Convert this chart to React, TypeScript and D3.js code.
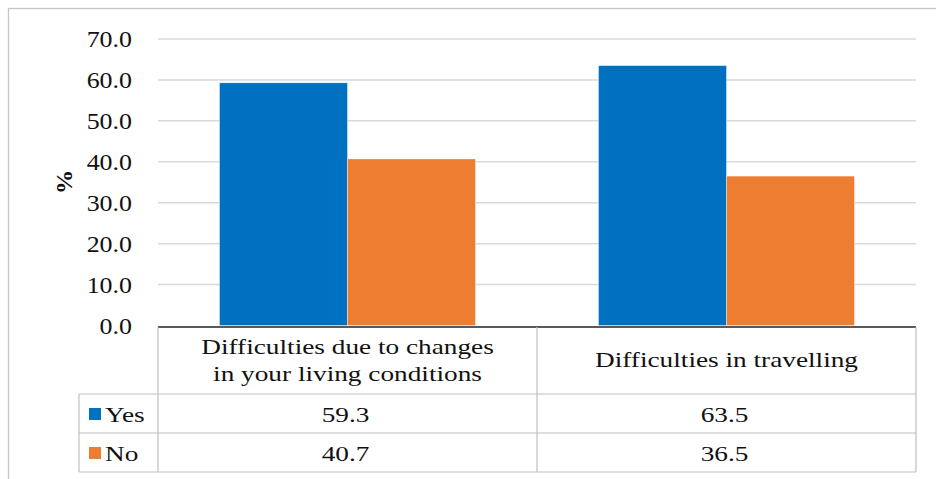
import React from "react";
import * as d3 from "d3";

const categories = ["Difficulties due to changes in your living conditions", "Difficulties in travelling"];
const categoryLines = [["Difficulties due to changes", "in your living conditions"], ["Difficulties in travelling"]];
const seriesNames = ["Yes", "No"];
const yesValues = [59.3, 63.5];
const noValues = [40.7, 36.5];
const yTicks = [0, 10, 20, 30, 40, 50, 60, 70];
const colors = ["#0070C0", "#ED7D31"];

const W = 936;
const H = 479;
const FONT = "Liberation Serif";

function T({ x, y, size, sx, anchor = "middle", weight = "normal", rotate = 0, children }: any) {
  return (
    <g transform={`translate(${x},${y}) rotate(${rotate}) scale(${sx},1)`}>
      <text x={0} y={0} fontFamily={FONT} fontSize={size} fontWeight={weight} textAnchor={anchor} fill="#111">
        {children}
      </text>
    </g>
  );
}

export default function App() {
  const plotL = 158;
  const plotR = 916;
  const y = d3.scaleLinear().domain([0, 70]).range([325.5, 39]);
  const x = d3.scaleBand<string>().domain(categories).range([plotL, plotR]).paddingInner(0.3245).paddingOuter(0.16225);
  const xs = d3.scaleBand<string>().domain(seriesNames).range([0, x.bandwidth()]);
  const series = [yesValues, noValues];

  const headerTop = 327;
  const rowTops = [394, 433];
  const tableBottom = 472;
  const legendL = 79;
  const colEdges = [plotL, (plotL + plotR) / 2, plotR];
  const border = "#bfbfbf";
  const tsx = 1.24;

  return (
    <svg width={W} height={H} style={{ position: "absolute", left: 0, top: 0, background: "#fff" }}>
      <rect x={8.5} y={8.5} width={960} height={520} fill="#fff" stroke="#c6c6c6" strokeWidth={1.3} />
      {yTicks.map((t) => (
        <g key={t}>
          {t > 0 && <line x1={plotL} x2={plotR} y1={y(t)} y2={y(t)} stroke="#d9d9d9" strokeWidth={1.5} />}
          <T x={132} y={y(t) + 8} size={24} sx={1.08} anchor="end">
            {t.toFixed(1)}
          </T>
        </g>
      ))}
      <T x={72} y={182} size={23} sx={1.05} rotate={-90} weight="bold">
        %
      </T>
      {categories.map((c, ci) => (
        <g key={c}>
          {seriesNames.map((s, si) => (
            <rect
              key={s}
              x={(x(c) as number) + (xs(s) as number)}
              y={y(series[si][ci])}
              width={xs.bandwidth()}
              height={y(0) - y(series[si][ci])}
              fill={colors[si]}
              stroke="#ffffff"
              strokeOpacity={0.5}
              strokeWidth={0.8}
            />
          ))}
        </g>
      ))}
      <line x1={plotL} x2={plotR} y1={headerTop} y2={headerTop} stroke="#595959" strokeWidth={2} />
      {rowTops.map((ry, i) => (
        <line key={i} x1={legendL} x2={plotR} y1={ry} y2={ry} stroke={border} strokeWidth={1.2} />
      ))}
      <line x1={legendL} x2={plotR} y1={tableBottom} y2={tableBottom} stroke={border} strokeWidth={1.2} />
      <line x1={legendL} x2={legendL} y1={rowTops[0]} y2={tableBottom} stroke={border} strokeWidth={1.2} />
      {colEdges.map((cx, i) => (
        <line key={i} x1={cx} x2={cx} y1={headerTop} y2={tableBottom} stroke={border} strokeWidth={1.2} />
      ))}
      {categories.map((c, ci) => {
        const cx = (colEdges[ci] + colEdges[ci + 1]) / 2;
        const lines = categoryLines[ci];
        const base = lines.length === 1 ? 367 : 354;
        return (
          <g key={c}>
            {lines.map((l, li) => (
              <T key={li} x={cx} y={base + li * 27} size={22} sx={tsx}>
                {l}
              </T>
            ))}
            {series.map((vals, si) => (
              <T key={si} x={cx - 2} y={rowTops[si] + 28} size={22} sx={tsx}>
                {vals[ci].toFixed(1)}
              </T>
            ))}
          </g>
        );
      })}
      {seriesNames.map((s, si) => (
        <g key={s}>
          <rect x={89} y={rowTops[si] + 14} width={12} height={12} fill={colors[si]} />
          <T x={105} y={rowTops[si] + 28} size={22} sx={tsx} anchor="start">
            {s}
          </T>
        </g>
      ))}
    </svg>
  );
}
